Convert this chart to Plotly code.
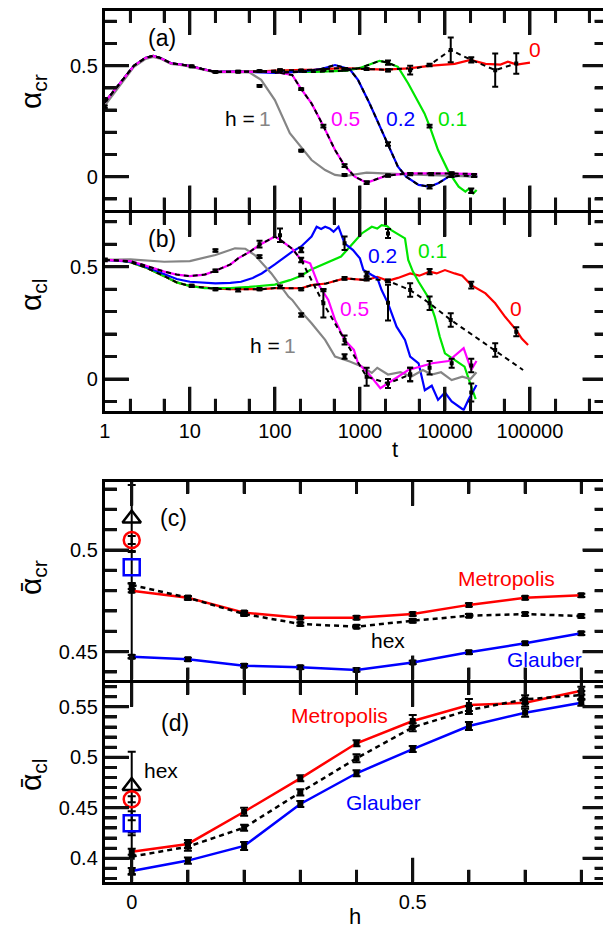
import plotly.graph_objects as go

FONT = "Liberation Sans, Arial, Helvetica, sans-serif"
RED, GREEN, BLUE, MAG, GRAY = "#ff0000", "#00e600", "#0000ff", "#ff00ff", "#858585"

W, H, OFF = 603, 922, 8  # page body margin offsets the figure by 8 px

# ---------------- Panel (a): alpha_cr vs t ----------------
a_red_t = [1, 1.5, 2.2, 3, 3.7, 4.5, 6, 8, 10.5, 14, 20, 30, 40, 50, 70, 100, 150, 300, 600, 1000,
           2000, 3700, 7000, 13000, 20000, 30000, 45000, 55000, 70000, 100000]
a_red_v = [0.335, 0.42, 0.5, 0.535, 0.544, 0.535, 0.511, 0.505, 0.497, 0.485, 0.472, 0.473, 0.473, 0.472,
           0.475, 0.478, 0.48, 0.482, 0.489, 0.487, 0.482, 0.488, 0.5, 0.508, 0.526, 0.508, 0.505, 0.518,
           0.505, 0.514]
a_green_t = [1, 1.5, 2.2, 3, 3.7, 4.5, 6, 8, 10.5, 14, 20, 30, 40, 50, 100, 300, 700, 1000, 1300, 1700,
             2100, 2800, 3700, 5750, 6600, 8300, 11000, 14500, 17400, 19000, 21500, 23600]
a_green_v = [0.335, 0.42, 0.5, 0.535, 0.544, 0.535, 0.511, 0.505, 0.497, 0.485, 0.472, 0.473, 0.473,
             0.472, 0.47, 0.472, 0.478, 0.49, 0.505, 0.522, 0.514, 0.495, 0.42, 0.285, 0.228, 0.12,
             0.023, -0.045, -0.067, -0.055, -0.075, -0.06]
a_blue_t = [1, 1.5, 2.2, 3, 3.7, 4.5, 6, 8, 10.5, 14, 20, 30, 40, 50, 100, 200, 350, 510, 760, 950,
            1300, 2150, 2800, 3500, 4900, 6600, 8300, 11000, 16000, 24000]
a_blue_v = [0.335, 0.42, 0.5, 0.535, 0.544, 0.535, 0.511, 0.505, 0.497, 0.485, 0.472, 0.473, 0.473,
            0.472, 0.468, 0.473, 0.485, 0.503, 0.484, 0.436, 0.33, 0.147, 0.045, 0.0, -0.037, -0.045,
            -0.03, 0.0, 0.005, 0.0]
a_mag_t = [1, 1.5, 2.2, 3, 3.7, 4.5, 6, 8, 10.5, 14, 20, 30, 40, 50, 100, 160, 204, 270, 372, 510,
           660, 870, 1200, 2050, 3700, 10000, 24000]
a_mag_v = [0.335, 0.42, 0.5, 0.535, 0.544, 0.535, 0.511, 0.505, 0.497, 0.485, 0.472, 0.473, 0.473,
           0.472, 0.472, 0.458, 0.395, 0.33, 0.228, 0.12, 0.05, 0.0, -0.027, 0.005, 0.015, 0.015, 0.012]
a_gray_t = [1, 1.5, 2.2, 3, 3.7, 4.5, 6, 8, 10.5, 14, 20, 30, 40, 50, 69, 100, 150, 204, 270, 390,
            510, 660, 1200, 3000, 10000, 24000]
a_gray_v = [0.32, 0.41, 0.495, 0.53, 0.54, 0.532, 0.508, 0.502, 0.495, 0.483, 0.47, 0.472, 0.472,
            0.47, 0.436, 0.345, 0.196, 0.13, 0.075, 0.03, 0.008, 0.003, 0.018, 0.012, 0.005, 0.0]

a_hex0_tail_t = [3700, 6600, 11700, 20400, 39000, 69000]
a_hex0_tail_v = [0.48, 0.503, 0.571, 0.526, 0.48, 0.51]

a_err_t = [1, 1, 10.5, 20, 37, 66, 115, 204, 372, 660, 1200, 2140, 3900, 6600, 11700, 20400, 39000,
           69000,
           2140, 6600, 20400,
           660, 2140, 6600, 12000, 22000,
           204, 372, 660, 1200, 2140, 3900, 6900, 12000,
           66, 204, 660]
a_err_v = [0.349, 0.315, 0.497, 0.472, 0.473, 0.476, 0.48, 0.478, 0.481, 0.484, 0.485, 0.479, 0.48,
           0.503, 0.571, 0.526, 0.48, 0.51,
           0.514, 0.228, -0.063,
           0.484, 0.147, -0.045, 0.005, 0.005,
           0.395, 0.228, 0.05, -0.027, 0.005, 0.012, 0.012, 0.015,
           0.409, 0.117, 0.008]
a_err_e = [0.006, 0.006, 0.004, 0.004, 0.004, 0.004, 0.004, 0.004, 0.004, 0.004, 0.004, 0.005, 0.02,
           0.006, 0.056, 0.012, 0.075, 0.046,
           0.01, 0.006, 0.01,
           0.005, 0.008, 0.008, 0.006, 0.006,
           0.004, 0.006, 0.006, 0.006, 0.005, 0.005, 0.005, 0.005,
           0.004, 0.004, 0.004]

# ---------------- Panel (b): alpha_cl vs t ----------------
b_red_t = [1, 1.5, 2, 3, 5, 7, 10, 15, 20, 30, 50, 70, 100, 150, 204, 270, 400, 660, 900, 1200, 1600,
           2140, 2800, 3900, 5000, 6600, 8000, 10000, 13000, 16000, 20400, 30000, 39000, 51000, 69000,
           80000, 95000]
b_red_v = [0.53, 0.528, 0.52, 0.497, 0.458, 0.43, 0.414, 0.405, 0.402, 0.4, 0.4, 0.4, 0.405, 0.404,
           0.404, 0.418, 0.425, 0.448, 0.445, 0.44, 0.455, 0.437, 0.45, 0.47, 0.46, 0.478, 0.47, 0.485,
           0.47, 0.46, 0.418, 0.381, 0.337, 0.277, 0.218, 0.18, 0.151]
b_green_t = [1, 1.5, 2, 3, 5, 7, 10, 15, 20, 30, 50, 70, 100, 150, 204, 260, 390, 600, 830, 1050, 1380,
             1600, 1800, 2100, 2340, 3390, 3700, 4200, 4900, 5500, 6300, 7600, 8700, 10000, 13000,
             17000, 20400, 23000]
b_green_v = [0.53, 0.528, 0.52, 0.497, 0.458, 0.43, 0.414, 0.405, 0.405, 0.405, 0.41, 0.415, 0.42,
             0.44, 0.46, 0.485, 0.515, 0.545, 0.604, 0.648, 0.678, 0.67, 0.685, 0.68, 0.663, 0.626,
             0.53, 0.478, 0.433, 0.404, 0.366, 0.277, 0.188, 0.114, 0.085, 0.055, -0.033, -0.09]
b_blue_t = [1, 2, 3, 5, 7, 10, 15, 20, 30, 40, 55, 70, 100, 130, 160, 204, 270, 310, 350, 390, 440,
            490, 560, 660, 830, 1000, 1100, 1380, 1600, 1800, 2140, 2700, 3390, 3900, 4900, 5800,
            7000, 8300, 10000, 12000, 16600, 19000, 23500]
b_blue_v = [0.53, 0.522, 0.5, 0.465, 0.445, 0.433, 0.428, 0.426, 0.428, 0.433, 0.45, 0.47, 0.51,
            0.54, 0.567, 0.59, 0.634, 0.678, 0.668, 0.678, 0.67, 0.656, 0.678, 0.604, 0.574, 0.537,
            0.485, 0.463, 0.45, 0.396, 0.337, 0.233, 0.174, 0.1, 0.07, -0.05, -0.03, -0.093, -0.06,
            -0.1, -0.138, -0.09, -0.027]
b_mag_t = [1, 2, 3, 5, 7, 10, 15, 20, 30, 37, 50, 66, 100, 115, 160, 204, 260, 320, 425, 510, 660,
           850, 950, 1260, 1740, 2340, 3700, 7100, 11000, 16600, 20400, 23500]
b_mag_v = [0.53, 0.525, 0.505, 0.478, 0.465, 0.458, 0.465, 0.482, 0.51, 0.537, 0.565, 0.597, 0.634,
           0.62, 0.58, 0.53, 0.515, 0.426, 0.352, 0.263, 0.174, 0.13, 0.07, 0.025, -0.041, -0.01,
           0.04, 0.07, 0.08, 0.137, 0.04, 0.08]
b_gray_t = [1, 2, 5, 10, 20, 34, 45, 58, 91, 145, 160, 204, 270, 390, 510, 760, 1050, 1380, 1600,
            2140, 3000, 4000, 5500, 7000, 9000, 12000, 16000, 20000, 23500]
b_gray_v = [0.53, 0.533, 0.522, 0.525, 0.552, 0.582, 0.58, 0.552, 0.47, 0.366, 0.352, 0.3, 0.248,
            0.174, 0.1, 0.078, 0.056, 0.027, 0.05, 0.02, 0.03, 0.01, 0.04, 0.02, 0.03, -0.005, 0.01,
            0.0, 0.03]

b_hex0_tail_t = [1200, 2140, 3900, 6600, 11700, 20400, 39000, 83000]
b_hex0_tail_v = [0.448, 0.437, 0.396, 0.337, 0.263, 0.2, 0.129, 0.04]
b_hex5_mid_t = [204, 372, 660, 1200, 2140, 3900]
b_hex5_mid_v = [0.53, 0.337, 0.174, 0.01, -0.02, 0.02]

b_err_t = [1, 10.5, 20, 37, 66, 115, 204, 372, 660, 1200, 2140, 3900, 6600, 11700, 39000,
           6600, 20400, 69000,
           20, 66, 115, 204, 372, 660, 1200, 2140, 3900, 6600, 12000, 20400,
           204, 660, 1200, 2140, 3900, 20400,
           204, 2140,
           20, 66, 204, 660]
b_err_v = [0.53, 0.415, 0.4, 0.396, 0.4, 0.41, 0.4, 0.396, 0.448, 0.448, 0.437, 0.396, 0.337, 0.263,
           0.129,
           0.478, 0.418, 0.21,
           0.482, 0.6, 0.64, 0.53, 0.337, 0.174, 0.01, -0.02, 0.02, 0.05, 0.07, 0.06,
           0.574, 0.604, 0.463, 0.34, 0.02, -0.06,
           0.463, 0.648,
           0.572, 0.545, 0.285, 0.1]
b_err_e = [0.006, 0.005, 0.005, 0.006, 0.005, 0.006, 0.005, 0.005, 0.006, 0.01, 0.006, 0.03, 0.03,
           0.03, 0.03,
           0.012, 0.015, 0.02,
           0.006, 0.015, 0.03, 0.01, 0.063, 0.02, 0.04, 0.02, 0.03, 0.03, 0.02, 0.03,
           0.01, 0.03, 0.015, 0.08, 0.03, 0.04,
           0.006, 0.02,
           0.006, 0.006, 0.008, 0.01]

t_major = [1, 10, 100, 1000, 10000, 100000]
t_labels = ["1", "10", "100", "1000", "10000", "100000"]
t_minor = [2, 5, 20, 50, 200, 500, 2000, 5000, 20000, 50000, 200000, 500000]
ab_y_major = [0, 0.5]
ab_y_labels = ["0", "0.5"]
ab_y_minor = [-0.1, 0.1, 0.2, 0.3, 0.4, 0.6, 0.7]

# ---------------- Panels (c), (d): averages vs h ----------------
h_vals = [0, 0.1, 0.2, 0.3, 0.4, 0.5, 0.6, 0.7, 0.8]
c_metro = [0.480, 0.4765, 0.4692, 0.4667, 0.4667, 0.4685, 0.473, 0.4765, 0.4777]
c_hex = [0.4828, 0.4765, 0.4685, 0.4636, 0.4623, 0.4652, 0.4677, 0.4685, 0.4675]
c_glauber = [0.4475, 0.4462, 0.4431, 0.4423, 0.441, 0.4447, 0.4497, 0.4541, 0.459]
c_err = [0.0008] * 9
c_hex_err_minus = [0.036, 0.0008, 0.0008, 0.0008, 0.0008, 0.0008, 0.0008, 0.0008, 0.0008]
c_h0_hex, c_h0_metro, c_h0_glauber = 0.5155, 0.5049, 0.4915
c_h0_err = [0.0165, 0.002, 0.008]

d_metro = [0.4065, 0.4142, 0.4461, 0.4792, 0.5139, 0.536, 0.5518, 0.554, 0.566]
d_hex = [0.4016, 0.4115, 0.4303, 0.4653, 0.499, 0.5297, 0.5468, 0.5574, 0.5617]
d_glauber = [0.3874, 0.3977, 0.4122, 0.4538, 0.4842, 0.5082, 0.531, 0.5442, 0.554]
d_metro_err = [0.003, 0.004, 0.004, 0.003, 0.003, 0.006, 0.006, 0.004, 0.004]
d_hex_err = [0.024, 0.004, 0.003, 0.003, 0.004, 0.004, 0.004, 0.004, 0.004]
d_hex_err_minus = [0.018, 0.004, 0.003, 0.003, 0.004, 0.004, 0.004, 0.004, 0.004]
d_glauber_err = [0.003, 0.003, 0.004, 0.003, 0.003, 0.003, 0.004, 0.004, 0.003]
d_h0_hex, d_h0_metro, d_h0_glauber = 0.4716, 0.4584, 0.4347
d_h0_err_plus = [0.034, 0.003, 0.012]
d_h0_err_minus = [0.034, 0.003, 0.012]

h_major = [0, 0.5]
h_labels = ["0", "0.5"]
h_minor = [0.1, 0.2, 0.3, 0.4, 0.6, 0.7, 0.8]
c_y_major = [0.45, 0.5]
c_y_labels = ["0.45", "0.5"]
c_y_minor = [0.44, 0.46, 0.47, 0.48, 0.49, 0.51, 0.52, 0.53]
d_y_major = [0.4, 0.45, 0.5, 0.55]
d_y_labels = ["0.4", "0.45", "0.5", "0.55"]
d_y_minor = [0.38, 0.39, 0.41, 0.42, 0.43, 0.44, 0.46, 0.47, 0.48, 0.49, 0.51, 0.52, 0.53, 0.54,
             0.56, 0.57]

# axis ranges
T_RANGE = [0, 5.90]          # log10(t)
H_RANGE = [-0.0479, 0.8448]
YA_RANGE = [-0.1477, 0.7473]
YB_RANGE = [-0.1416, 0.7413]
YC_RANGE = [0.4363, 0.5337]
YD_RANGE = [0.3767, 0.5741]

fig = go.Figure()


def line(x, y, color, ax, width=2.2, dash=None):
    fig.add_trace(go.Scatter(x=x, y=y, mode="lines", line=dict(color=color, width=width, dash=dash),
                             xaxis=ax[0], yaxis=ax[1], showlegend=False, hoverinfo="skip"))


def dotted(x, y, ax):
    line(x, y, "black", ax, width=2, dash="5px,4px")


def errpts(x, y, e, ax):
    fig.add_trace(go.Scatter(
        x=x, y=y, mode="markers", marker=dict(symbol="square", size=4, color="black"),
        error_y=dict(type="data", array=e, color="black", thickness=2, width=3),
        xaxis=ax[0], yaxis=ax[1], showlegend=False, hoverinfo="skip"))


A = ("x", "y")
B = ("x2", "y2")
C = ("x3", "y3")
D = ("x4", "y4")

line(a_red_t, a_red_v, RED, A)
line(a_green_t, a_green_v, GREEN, A)
line(a_blue_t, a_blue_v, BLUE, A)
line(a_gray_t, a_gray_v, GRAY, A)
line(a_mag_t, a_mag_v, MAG, A)
dotted(a_red_t[:22], a_red_v[:22], A)
dotted(a_hex0_tail_t, a_hex0_tail_v, A)
dotted(a_mag_t, a_mag_v, A)
dotted(a_blue_t[14:], a_blue_v[14:], A)
dotted(a_green_t[14:22], a_green_v[14:22], A)
errpts(a_err_t, a_err_v, a_err_e, A)

line(b_red_t, b_red_v, RED, B)
line(b_green_t, b_green_v, GREEN, B)
line(b_blue_t, b_blue_v, BLUE, B)
line(b_gray_t, b_gray_v, GRAY, B)
line(b_mag_t, b_mag_v, MAG, B)
dotted(b_red_t[:20], b_red_v[:20], B)
dotted(b_hex0_tail_t, b_hex0_tail_v, B)
dotted(b_mag_t[:16], b_mag_v[:16], B)
dotted(b_hex5_mid_t, b_hex5_mid_v, B)
errpts(b_err_t, b_err_v, b_err_e, B)


def hline(y, e, color, ax, dash=None, em=None):
    fig.add_trace(go.Scatter(
        x=h_vals, y=y, mode="lines+markers",
        line=dict(color=color, width=2.5, dash=dash),
        marker=dict(symbol="square", size=6, color="black"),
        error_y=dict(type="data", array=e, arrayminus=em if em is not None else e,
                     color="black", thickness=2, width=4),
        xaxis=ax[0], yaxis=ax[1], showlegend=False, hoverinfo="skip"))


def h0marks(vals, ep, em, ax):
    syms = ["triangle-up-open", "circle-open", "square-open"]
    cols = ["black", RED, BLUE]
    for v, s, c, p, m in zip(vals, syms, cols, ep, em):
        fig.add_trace(go.Scatter(
            x=[h_vals[0]], y=[v], mode="markers",
            marker=dict(symbol=s, size=16, color=c, line=dict(color=c, width=2.5)),
            error_y=dict(type="data", array=[p], arrayminus=[m], color="black", thickness=2, width=4),
            xaxis=ax[0], yaxis=ax[1], showlegend=False, hoverinfo="skip"))


hline(c_glauber, c_err, BLUE, C)
hline(c_metro, c_err, RED, C)
hline(c_hex, c_err, "black", C, dash="5px,4px", em=c_hex_err_minus)
h0marks([c_h0_hex, c_h0_metro, c_h0_glauber], c_h0_err, c_h0_err, C)

hline(d_glauber, d_glauber_err, BLUE, D)
hline(d_metro, d_metro_err, RED, D)
hline(d_hex, d_hex_err, "black", D, dash="5px,4px", em=d_hex_err_minus)
h0marks([d_h0_hex, d_h0_metro, d_h0_glauber], d_h0_err_plus, d_h0_err_minus, D)


def px_x(sx):
    return (sx - OFF) / W


def px_y(sy):
    return 1 - (sy - OFF) / H


# plot areas sit 1.5 px inside the frame-line centres (axis lines are drawn outside the domain)
X_PX = [104.8, 606.5]
YA_PX = [209.5, 10.8]
YB_PX = [410.8, 212.5]
YC_PX = [679.5, 481.5]
YD_PX = [881.8, 682.5]
XDOM = [px_x(X_PX[0]), px_x(X_PX[1])]

# inside tick marks on all four sides (long at labelled values, short between),
# drawn as a line trace positioned from the axis ranges
MAJ, MIN = 24, 12


def tickmarks(ax, xr, yr, xlog, xmaj, xmin, ymaj, ymin, ypx):
    xpx = X_PX[1] - X_PX[0]
    ylen = ypx[0] - ypx[1]
    dx = (xr[1] - xr[0]) / xpx
    dy = (yr[1] - yr[0]) / ylen
    conv = (lambda u: 10 ** u) if xlog else (lambda u: u)
    xs, ys = [], []
    for vals, L in ((xmaj, MAJ), (xmin, MIN)):
        for v in vals:
            xs += [v, v, None, v, v, None]
            ys += [yr[0], yr[0] + L * dy, None, yr[1], yr[1] - L * dy, None]
    for vals, L in ((ymaj, MAJ), (ymin, MIN)):
        for v in vals:
            xs += [conv(xr[0]), conv(xr[0] + L * dx), None, conv(xr[1]), conv(xr[1] - L * dx), None]
            ys += [v, v, None, v, v, None]
    fig.add_trace(go.Scatter(x=xs, y=ys, mode="lines", line=dict(color="#111111", width=3),
                             xaxis=ax[0], yaxis=ax[1], showlegend=False))


tickmarks(A, T_RANGE, YA_RANGE, True, t_major[1:], t_minor, ab_y_major, ab_y_minor, YA_PX)
tickmarks(B, T_RANGE, YB_RANGE, True, t_major[1:], t_minor, ab_y_major, ab_y_minor, YB_PX)
tickmarks(C, H_RANGE, YC_RANGE, False, h_major, h_minor, c_y_major, c_y_minor, YC_PX)
tickmarks(D, H_RANGE, YD_RANGE, False, h_major, h_minor, d_y_major, d_y_minor, YD_PX)


def axcommon():
    return dict(ticks="inside", ticklen=MAJ, tickwidth=3, tickcolor="#111111",
                showline=True, linewidth=3, linecolor="black", mirror="allticks",
                showgrid=False, zeroline=False,
                tickfont=dict(size=20, color="black", family=FONT))


def minor_ticks(vals):
    return dict(tickmode="array", tickvals=vals, ticks="inside", ticklen=MIN, tickwidth=3,
                tickcolor="#111111", showgrid=False)


def tax(anchor, labels):
    d = axcommon()
    d.update(type="log", range=T_RANGE, domain=XDOM, anchor=anchor,
             tickmode="array", tickvals=t_major, ticktext=t_labels, showticklabels=labels,
             minor=minor_ticks(t_minor))
    return d


def hax(anchor, labels):
    d = axcommon()
    d.update(range=H_RANGE, domain=XDOM, anchor=anchor,
             tickmode="array", tickvals=h_major, ticktext=h_labels, showticklabels=labels,
             minor=minor_ticks(h_minor))
    return d


def yax(rng, ypx, anchor, major, labels, mnr):
    d = axcommon()
    d.update(range=rng, domain=[px_y(ypx[0]), px_y(ypx[1])], anchor=anchor, tickmode="array",
             tickvals=major, ticktext=labels, minor=minor_ticks(mnr))
    return d


fig.update_layout(
    template="none",
    width=W, height=H, margin=dict(l=0, r=0, t=0, b=0, autoexpand=False),
    paper_bgcolor="white", plot_bgcolor="white",
    font=dict(family=FONT, size=20, color="black"),
    showlegend=False,
    xaxis=tax("y", False),
    xaxis2=tax("y2", True),
    xaxis3=hax("y3", False),
    xaxis4=hax("y4", True),
    yaxis=yax(YA_RANGE, YA_PX, "x", ab_y_major, ab_y_labels, ab_y_minor),
    yaxis2=yax(YB_RANGE, YB_PX, "x2", ab_y_major, ab_y_labels, ab_y_minor),
    yaxis3=yax(YC_RANGE, YC_PX, "x3", c_y_major, c_y_labels, c_y_minor),
    yaxis4=yax(YD_RANGE, YD_PX, "x4", d_y_major, d_y_labels, d_y_minor),
)

ann = []


def txt(x, y, s, ax, color="black", size=21):
    ann.append(dict(x=x, y=y, xref=ax[0], yref=ax[1], text=s, showarrow=False,
                    font=dict(size=size, color=color, family=FONT),
                    xanchor="center", yanchor="middle"))


txt(0.667, 0.625, "(a)", A, size=23)
txt(1.68, 0.264, 'h =<span style="color:%s">\u20091</span>' % GRAY, A)
txt(2.826, 0.264, "0.5", A, MAG)
txt(3.473, 0.264, "0.2", A, BLUE)
txt(4.085, 0.264, "0.1", A, GREEN)
txt(5.055, 0.571, "0", A, RED)
txt(0.667, 0.623, "(b)", B, size=23)
txt(1.979, 0.151, 'h =<span style="color:%s">\u20091</span>' % GRAY, B)
txt(2.938, 0.316, "0.5", B, MAG)
txt(3.267, 0.552, "0.2", B, BLUE)
txt(3.855, 0.574, "0.1", B, GREEN)
txt(4.831, 0.316, "0", B, RED)
txt(0.0735, 0.5157, "(c)", C, size=23)
txt(0.666, 0.4862, "Metropolis", C, RED)
txt(0.456, 0.4557, "hex", C)
txt(0.734, 0.4459, "Glauber", C, BLUE)
txt(0.077, 0.534, "(d)", D, size=23)
txt(0.369, 0.5419, "Metropolis", D, RED)
txt(0.448, 0.4548, "Glauber", D, BLUE)
txt(0.052, 0.4874, "hex", D)


def ptxt(sx, sy, s, size, angle=0):
    ann.append(dict(x=px_x(sx), y=px_y(sy), xref="paper", yref="paper", text=s,
                    showarrow=False, textangle=angle,
                    font=dict(size=size, color="black", family=FONT),
                    xanchor="center", yanchor="middle"))


ptxt(32, 92, "α<sub>cr</sub>", 30, -90)
ptxt(32, 295, "α<sub>cl</sub>", 30, -90)
ptxt(32, 578, "ᾱ<sub>cr</sub>", 30, -90)
ptxt(32, 775, "ᾱ<sub>cl</sub>", 30, -90)
ptxt(395, 450, "t", 22)
ptxt(355, 916, "h", 22)

fig.update_layout(annotations=ann)
fig.write_html("out.html")
